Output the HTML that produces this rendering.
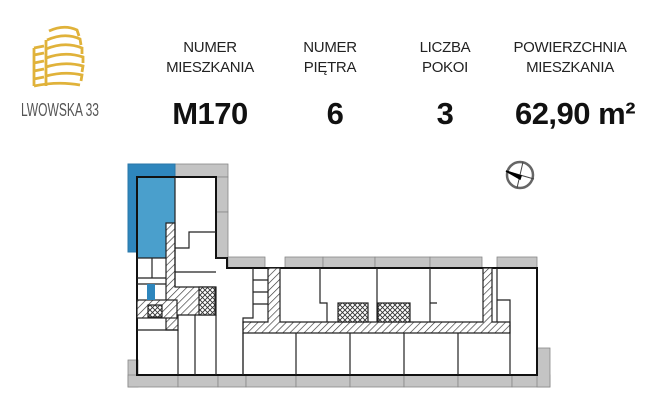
<!DOCTYPE html>
<html><head><meta charset="utf-8"><style>
html,body{margin:0;padding:0;background:#fff;}
body{width:661px;height:400px;position:relative;overflow:hidden;font-family:"Liberation Sans",sans-serif;}
.lab{position:absolute;top:38px;font-size:15px;line-height:20px;color:#222;text-align:center;letter-spacing:-0.3px;}
.val{position:absolute;top:96px;font-size:31px;font-weight:bold;color:#111;text-align:center;letter-spacing:-0.5px;}
</style></head><body>
<svg width="661" height="400" style="position:absolute;left:0;top:0">
<defs>
<pattern id="h" width="5" height="5" patternUnits="userSpaceOnUse" patternTransform="rotate(45)">
<rect width="5" height="5" fill="#fff"/><line x1="0" y1="0" x2="0" y2="5" stroke="#333" stroke-width="1.3"/></pattern>
<pattern id="x" width="5" height="5" patternUnits="userSpaceOnUse">
<rect width="5" height="5" fill="#fff"/><path d="M0 0L5 5M5 0L0 5" stroke="#333" stroke-width="0.9"/></pattern>
</defs>
<!-- logo -->
<g fill="none" stroke="#e0b23a" stroke-width="2.8">
<path d="M49 31 Q64 24 77 30 L79 36"/>
<path d="M47 40 Q65 32 80 39 L81 45"/>
<path d="M46 49 Q65 41 82 48 L82 54"/>
<path d="M46 58 Q65 51 83 57 L83 63"/>
<path d="M46 67 Q65 61 83 66 L82 72"/>
<path d="M46 76 Q65 71 82 75 L81 81"/>
<path d="M34 86 Q58 81 80 85"/>
<path d="M46 40 L46 86"/>
<path d="M34 48 L44 46 M34 55 L44 53 M34 63 L44 61 M34 71 L44 69 M34 79 L44 77 M34 48 L34 86"/>
</g>
<text x="21" y="116" font-family="Liberation Sans" font-size="18" fill="#555" textLength="78" lengthAdjust="spacingAndGlyphs">LWOWSKA 33</text>
<!-- compass -->
<circle cx="520" cy="175" r="13" fill="none" stroke="#666" stroke-width="2.5"/>
<path d="M523 162 L517 188 M506 171 L534 179" stroke="#444" stroke-width="1"/>
<path d="M506 171 L521 176 L520 179 Z" fill="#000" stroke="#000" stroke-width="1.5"/>
<!-- gray walls -->
<g fill="#c4c4c4" stroke="#888" stroke-width="0.8">
<rect x="175" y="164" width="53" height="13"/>
<rect x="216" y="177" width="12" height="35"/>
<rect x="216" y="212" width="12" height="46"/>
<rect x="228" y="257" width="37" height="11"/>
<rect x="285" y="257" width="38" height="11"/>
<rect x="323" y="257" width="52" height="11"/>
<rect x="375" y="257" width="55" height="11"/>
<rect x="430" y="257" width="52" height="11"/>
<rect x="497" y="257" width="40" height="11"/>
<rect x="128" y="360" width="10" height="27"/>
<rect x="128" y="375" width="50" height="12"/>
<rect x="178" y="375" width="40" height="12"/>
<rect x="218" y="375" width="28" height="12"/>
<rect x="246" y="375" width="50" height="12"/>
<rect x="296" y="375" width="54" height="12"/>
<rect x="350" y="375" width="54" height="12"/>
<rect x="404" y="375" width="54" height="12"/>
<rect x="458" y="375" width="54" height="12"/>
<rect x="512" y="375" width="38" height="12"/>
<rect x="537" y="348" width="13" height="39"/>
</g>
<!-- blue -->
<rect x="128" y="164" width="47" height="88" fill="#2e86bd" stroke="#2a77a8"/>
<rect x="138" y="177" width="37" height="81" fill="#4a9fcc"/>
<path d="M137 177 H216 V258 H227 V268 H537 V375 H137 Z" fill="none" stroke="#111" stroke-width="2"/>
<!-- hatched -->
<g stroke="#222" stroke-width="1.2">
<path d="M166 223 H175 V287 H216 V315 H178 V330 H166 Z" fill="url(#h)"/>
<rect x="137" y="300" width="40" height="18" fill="url(#h)"/>
<rect x="148" y="305" width="14" height="12" fill="url(#x)"/>
<rect x="199" y="287" width="16" height="28" fill="url(#x)"/>
<path d="M243 322 H268 V268 H280 V322 H483 V268 H492 V322 H510 V333 H243 Z" fill="url(#h)"/>
<rect x="338" y="303" width="30" height="19" fill="url(#x)"/>
<rect x="378" y="303" width="32" height="19" fill="url(#x)"/>
</g>
<!-- interior lines -->
<g fill="none" stroke="#222" stroke-width="1.2">
<path d="M175 177 V287 M175 248 H189 V232 H216 M175 272 H216 M137 258 H166 M137 278 H166 M137 284 H166 M152 258 V278 M137 330 H178 M216 315 V375 M195 315 V375 M178 330 V375"/>
<path d="M253 268 V318 H243 V375 M253 280 H268 M253 292 H268 M253 304 H268"/>
<path d="M320 268 V303 H327 V322 M377 268 V322 M430 268 V322 M430 303 H437 M497 268 V322 M497 300 H510 V333 M510 333 V375"/>
<path d="M243 333 V375 M296 333 V375 M350 333 V375 M404 333 V375 M458 333 V375"/>
<path d="M216 258 H227"/>
</g>
<rect x="147" y="284" width="8" height="16" fill="#2e86bd"/>
</svg>
<div class="lab" style="left:150px;width:120px">NUMER<br>MIESZKANIA</div>
<div class="lab" style="left:285px;width:90px">NUMER<br>PIĘTRA</div>
<div class="lab" style="left:400px;width:90px">LICZBA<br>POKOI</div>
<div class="lab" style="left:500px;width:140px">POWIERZCHNIA<br>MIESZKANIA</div>
<div class="val" style="left:150px;width:120px">M170</div>
<div class="val" style="left:290px;width:90px">6</div>
<div class="val" style="left:400px;width:90px">3</div>
<div class="val" style="left:495px;width:160px">62,90 m²</div>
</body></html>
